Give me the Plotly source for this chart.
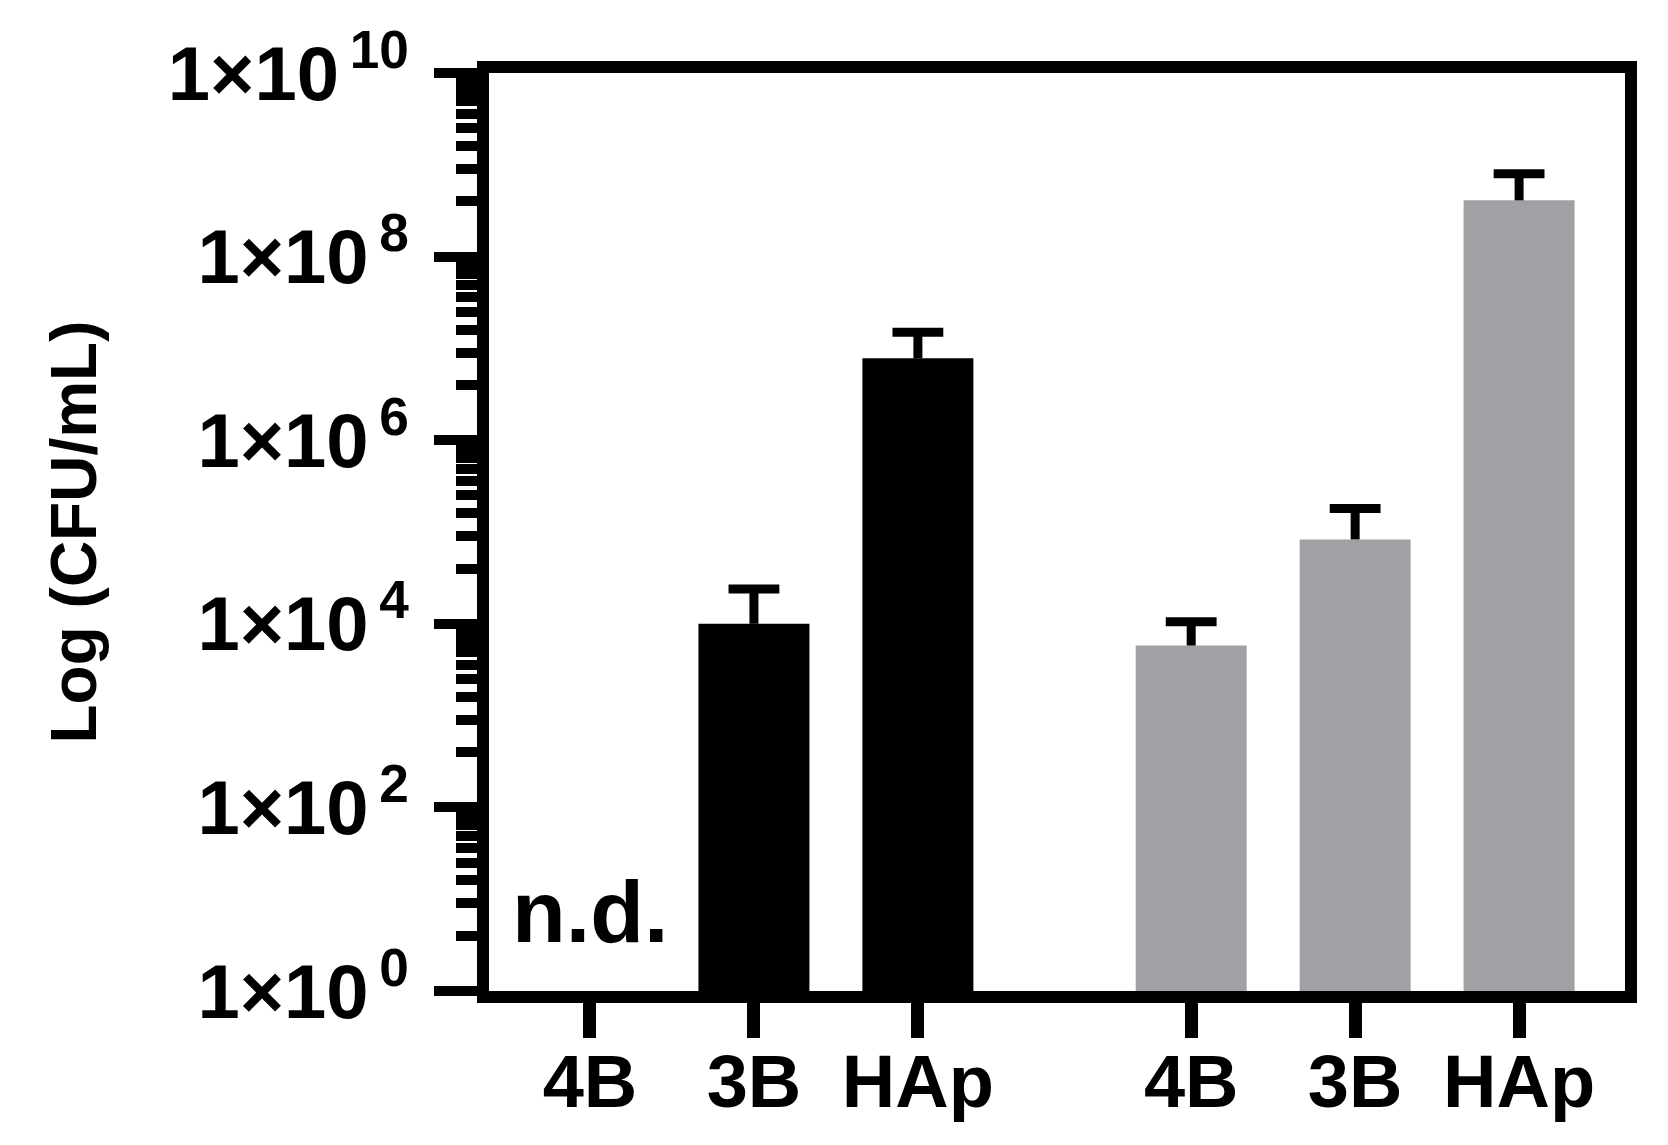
import plotly.graph_objects as go

# CFU/mL, per material
labels = ["4B", "3B", "HAp"]
black_mean = [None, 1.0e4, 7.8e6]   # 4B not detected
black_err = [None, 1.4e4, 7.2e6]
gray_mean = [5.8e3, 8.3e4, 4.1e8]
gray_err = [4.7e3, 9.7e4, 3.9e8]

GAP = 1.667          # distance between the two groups (in bar slots)
BAR_W = 0.677
CAP = 0.155
FONT = "Liberation Sans, Arial, sans-serif"

x_black = [i for i in range(len(labels))]
x_gray = [len(labels) - 1 + GAP + i for i in range(len(labels))]


def err_lines(xs, means, errs):
    # upper-only error bars: stem from bar top to cap + the cap itself
    ex, ey = [], []
    for x, m, e in zip(xs, means, errs):
        if m is None:
            continue
        top = m + e
        ex += [x, x, None, x - CAP, x + CAP, None]
        ey += [m, top, None, top, top, None]
    return ex, ey


fig = go.Figure()
fig.add_trace(go.Bar(x=x_black, y=black_mean, width=BAR_W, marker=dict(color="#000000", line=dict(width=0))))
fig.add_trace(go.Bar(x=x_gray, y=gray_mean, width=BAR_W, marker=dict(color="#a1a0a4", line=dict(width=0))))

for xs, ms, es in [(x_black, black_mean, black_err), (x_gray, gray_mean, gray_err)]:
    ex, ey = err_lines(xs, ms, es)
    fig.add_trace(go.Scatter(x=ex, y=ey, mode="lines", line=dict(color="black", width=9), hoverinfo="skip"))

# major ticks every 2 decades, minor ticks as in Prism (n^2 steps)
major = [10 ** p for p in range(0, 11, 2)]
major_txt = ["1×10<sup>\u2009%d</sup>" % p for p in range(0, 11, 2)]
minor = [n * n * 10 ** p for p in range(0, 10, 2) for n in range(2, 10)]

fig.add_annotation(x=x_black[0], y=0.87, xref="x", yref="y", text="n.d.", showarrow=False,
                   font=dict(family=FONT, size=88, color="black", weight="bold"))

fig.update_layout(
    width=1668, height=1145,
    margin=dict(l=481, r=51, t=57, b=162),
    paper_bgcolor="white", plot_bgcolor="white",
    showlegend=False, barmode="overlay",
    font=dict(family=FONT, color="black"),
)
fig.update_xaxes(
    range=[-0.616, x_gray[-1] + 0.646],
    tickmode="array", tickvals=x_black + x_gray, ticktext=labels + labels,
    ticks="outside", ticklen=35, tickwidth=13, tickcolor="black",
    tickfont=dict(family=FONT, size=74, color="black", weight="bold"),
    ticklabelstandoff=-20,
    showline=True, linewidth=12, linecolor="black", mirror=True,
    showgrid=False, zeroline=False,
)
fig.update_yaxes(
    type="log", range=[0, 10],
    tickmode="array", tickvals=major, ticktext=major_txt,
    ticks="outside", ticklen=43, tickwidth=10, tickcolor="black",
    tickfont=dict(family=FONT, size=76, color="black", weight="bold"),
    ticklabelstandoff=10,
    minor=dict(tickmode="array", tickvals=minor, ticks="outside", ticklen=21, tickwidth=10,
               tickcolor="black", showgrid=False),
    showline=True, linewidth=12, linecolor="black", mirror=True,
    showgrid=False, zeroline=False,
    title=dict(text="Log (CFU/mL)", standoff=55,
               font=dict(family=FONT, size=64, color="black", weight="bold")),
)

fig.write_html("out.html")
